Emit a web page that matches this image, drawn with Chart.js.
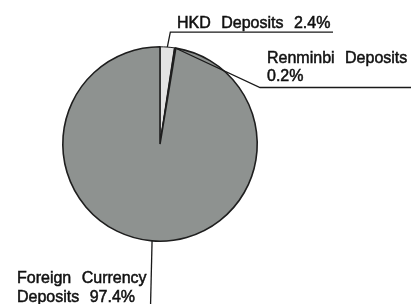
<!DOCTYPE html>
<html>
<head>
<meta charset="utf-8">
<script src="https://cdn.jsdelivr.net/npm/chart.js@4/dist/chart.umd.min.js"></script>
<style>
  html, body { margin: 0; padding: 0; background: #ffffff; }
  #wrap { width: 414px; height: 304px; position: relative; }
</style>
</head>
<body>
<div id="wrap"><canvas id="c" width="414" height="304"></canvas></div>
<script>
// Data
const categories = ["HKD Deposits", "Renminbi Deposits", "Foreign Currency Deposits"];
const shares = [2.4, 0.2, 97.4];
const labelLines = [
  ["HKD Deposits 2.4%"],
  ["Renminbi Deposits", "0.2%"],
  ["Foreign Currency", "Deposits 97.4%"]
];
const sliceColors = ["#e3e3e3", "#1a1a1a", "#8e9290"];

const FONT = '16px "Liberation Sans", Arial, sans-serif';
const WORD_GAP = 6;

function drawSpaced(ctx, text, x, y) {
  const words = text.split(" ");
  let cx = x;
  const sp = ctx.measureText(" ").width + WORD_GAP;
  words.forEach((w) => {
    ctx.fillText(w, cx, y);
    ctx.strokeText(w, cx, y);
    cx += ctx.measureText(w).width + sp;
  });
  return cx - sp;
}

function edgePoint(arc) {
  const mid = (arc.startAngle + arc.endAngle) / 2;
  return { x: arc.x + Math.cos(mid) * arc.outerRadius, y: arc.y + Math.sin(mid) * arc.outerRadius };
}

const leaderPlugin = {
  id: "leaders",
  afterDraw(chart) {
    const ctx = chart.ctx;
    const arcs = chart.getDatasetMeta(0).data;
    ctx.save();
    ctx.strokeStyle = "#1a1a1a";
    ctx.lineWidth = 1.3;
    ctx.font = FONT;
    ctx.textBaseline = "alphabetic";
    ctx.textAlign = "left";

    // HKD
    let p = edgePoint(arcs[0]);
    ctx.beginPath();
    ctx.moveTo(p.x, p.y);
    ctx.lineTo(p.x + 3, p.y - 15);
    ctx.lineTo(333, p.y - 15);
    ctx.stroke();
    // Renminbi
    p = edgePoint(arcs[1]);
    ctx.beginPath();
    ctx.moveTo(p.x, p.y);
    ctx.lineTo(260, 87.5);
    ctx.lineTo(411, 87.5);
    ctx.stroke();
    // Foreign
    p = edgePoint(arcs[2]);
    ctx.beginPath();
    ctx.moveTo(p.x, p.y);
    ctx.lineTo(p.x - 1.5, 304);
    ctx.stroke();

    ctx.fillStyle = "#111111";
    ctx.strokeStyle = "#111111";
    ctx.lineWidth = 0.5;
    drawSpaced(ctx, labelLines[0][0], 177, 28);
    drawSpaced(ctx, labelLines[1][0], 267, 63);
    drawSpaced(ctx, labelLines[1][1], 267, 81);
    drawSpaced(ctx, labelLines[2][0], 17, 283);
    drawSpaced(ctx, labelLines[2][1], 17, 302);
    ctx.restore();
  }
};

new Chart(document.getElementById("c"), {
  type: "pie",
  data: {
    labels: categories,
    datasets: [{
      data: shares,
      backgroundColor: sliceColors,
      borderColor: "#1e1e1e",
      borderWidth: [1, 1.5, 1.6]
    }]
  },
  options: {
    responsive: false,
    animation: false,
    rotation: 0,
    layout: { padding: { top: 46, bottom: 62, left: 62, right: 156 } },
    plugins: {
      legend: { display: false },
      tooltip: { enabled: false }
    }
  },
  plugins: [leaderPlugin]
});
</script>
</body>
</html>
